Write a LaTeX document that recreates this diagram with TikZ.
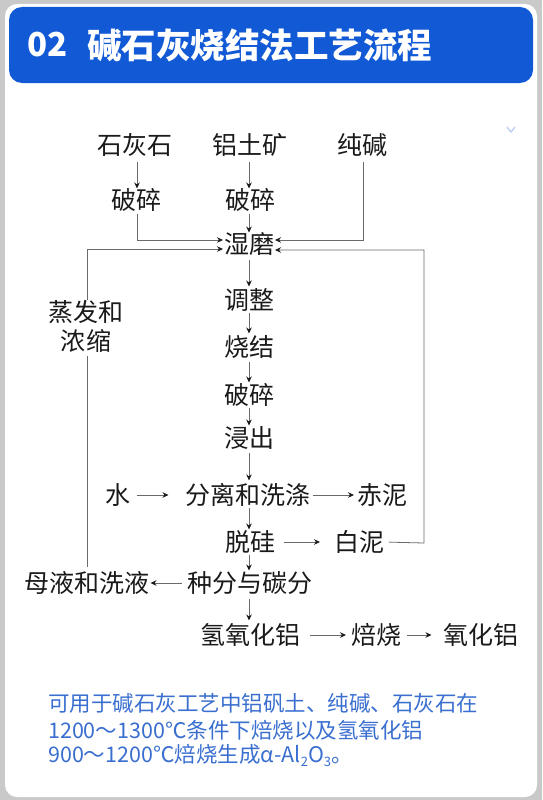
\documentclass[tikz,border=0pt]{standalone}
\usepackage{fontspec}
\newfontfamily\cjk{Noto Sans CJK SC}
\usetikzlibrary{arrows.meta}
\definecolor{bggray}{HTML}{C9C9C9}
\definecolor{hdrblue}{HTML}{1259D6}
\definecolor{noteblue}{HTML}{3A6FD0}
\definecolor{linegray}{HTML}{6A6A6A}
\definecolor{txt}{HTML}{1A1A1A}
\definecolor{chev}{HTML}{B9CEF2}
\tikzset{
  stepnode/.style={inner sep=0pt, outer sep=0pt, text=txt, font=\cjk\fontsize{25}{29}\selectfont},
  flow/.style={draw=linegray, line width=0.8pt, -{Stealth[length=6pt,width=5.5pt,color=txt]}},
  plainline/.style={draw=linegray, line width=0.8pt},
  notetext/.style={inner sep=0pt, anchor=west, text=noteblue, font=\cjk\fontsize{21.5}{24}\selectfont}
}
\begin{document}
\begin{tikzpicture}[x=1pt,y=-1pt]
\useasboundingbox (0,0) rectangle (542,800);
\fill[bggray] (0,0) rectangle (542,800);
\fill[white, rounded corners=12pt] (5,4) rectangle (537,797);
\fill[hdrblue, rounded corners=13pt] (9,7) rectangle (533,83);
\node[inner sep=0pt, anchor=west, text=white, font=\cjk\bfseries\fontsize{33}{36}\selectfont] (hnum) at (27,45) {02};
\node[inner sep=0pt, anchor=west, text=white, font=\cjk\bfseries\fontsize{34.5}{36}\selectfont] (htitle) at (87,45) {碱石灰烧结法工艺流程};
\draw[chev, line width=1.2pt] (507,127) -- (511,132) -- (515,127);

% nodes
\node[stepnode] (shs) at (135,145) {石灰石};
\node[stepnode] (ltk) at (250,145) {铝土矿};
\node[stepnode] (cj)  at (362,145) {纯碱};
\node[stepnode] (ps1) at (136,200) {破碎};
\node[stepnode] (ps2) at (250,200) {破碎};
\node[stepnode] (sm)  at (249,244) {湿磨};
\node[stepnode] (tz)  at (249,300) {调整};
\node[stepnode] (sj)  at (249,347) {烧结};
\node[stepnode] (ps3) at (249,395) {破碎};
\node[stepnode] (jc)  at (249,438) {浸出};
\node[stepnode] (fl)  at (248,495) {分离和洗涤};
\node[stepnode] (sh)  at (118,495) {水};
\node[stepnode] (cn)  at (382,495) {赤泥};
\node[stepnode] (tg)  at (250,542) {脱硅};
\node[stepnode] (bn)  at (359,542) {白泥};
\node[stepnode] (zf)  at (250,583) {种分与碳分};
\node[stepnode] (my)  at (87,583) {母液和洗液};
\node[stepnode] (qy)  at (250,635) {氢氧化铝};
\node[stepnode] (bs)  at (376,635) {焙烧};
\node[stepnode] (yh)  at (481,635) {氧化铝};
\node[stepnode, align=center] (zn) at (86,326) {蒸发和\\浓缩};

\coordinate (rr) at (424,543);

% connectors
\draw[flow, shorten <=5pt] (shs.south -| 137,0) -- (ps1.north -| 137,0);
\draw[flow, shorten <=5pt] (ltk.south -| 249,0) -- (ps2.north -| 249,0);
\draw[flow, shorten <=2pt, shorten >=1pt] (ps1.south -| 137,0) |- ([yshift=4pt]sm.west);
\draw[flow, shorten <=2pt] (ps2.south -| 249,0) -- (sm.north -| 249,0);
\draw[flow, shorten <=5pt, shorten >=1pt] (cj.south -| 363,0) |- ([yshift=4pt]sm.east);
\draw[flow, shorten >=1pt] (zn.north -| 87,0) |- ([yshift=-5pt]sm.west);
\draw[plainline, shorten <=4pt, shorten >=4pt] (my.north -| 87,0) -- (zn.south -| 87,0);
\draw[flow, shorten <=5pt, shorten >=1pt] (bn.east) -- (rr) |- ([yshift=-6pt]sm.east);
\draw[flow, shorten <=4pt, shorten >=2pt] (sm.south -| 249,0) -- (tz.north -| 249,0);
\draw[flow, shorten <=2pt, shorten >=2pt] (tz.south -| 249,0) -- (sj.north -| 249,0);
\draw[flow, shorten <=3pt, shorten >=1pt] (sj.south -| 249,0) -- (ps3.north -| 249,0);
\draw[flow, shorten <=1pt, shorten >=1pt] (ps3.south -| 249,0) -- (jc.north -| 249,0);
\draw[flow, shorten <=4pt, shorten >=3pt] (jc.south -| 249,0) -- (fl.north -| 249,0);
\draw[flow, shorten <=6pt, shorten >=17pt] (sh.east) -- (fl.west);
\draw[flow, shorten <=2pt, shorten >=3pt] (fl.east) -- (cn.west);
\draw[flow, shorten <=1pt, shorten >=1pt] (fl.south -| 249,0) -- (tg.north -| 249,0);
\draw[flow, shorten <=9pt, shorten >=14pt] (tg.east) -- (bn.west);
\draw[flow, shorten <=1pt, shorten >=1pt] (tg.south -| 249,0) -- (zf.north -| 249,0);
\draw[flow, shorten <=6pt, shorten >=1pt] (zf.west) -- (my.east);
\draw[flow, shorten <=4pt, shorten >=3pt] (zf.south -| 249,0) -- (qy.north -| 249,0);
\draw[flow, shorten <=10pt, shorten >=5pt] (qy.east) -- (bs.west);
\draw[flow, shorten <=6pt, shorten >=12pt] (bs.east) -- (yh.west);

% note
\node[notetext] (n1) at (48,703) {可用于碱石灰工艺中铝矾土、纯碱、石灰石在};
\node[notetext] (n2) at (48,730) {1200～1300℃条件下焙烧以及氢氧化铝};
\node[notetext] (n3) at (48,755) {900～1200℃焙烧生成α-Al\raisebox{-4pt}{\fontsize{13}{13}\selectfont 2}O\raisebox{-4pt}{\fontsize{13}{13}\selectfont 3}。};
\end{tikzpicture}
\end{document}
